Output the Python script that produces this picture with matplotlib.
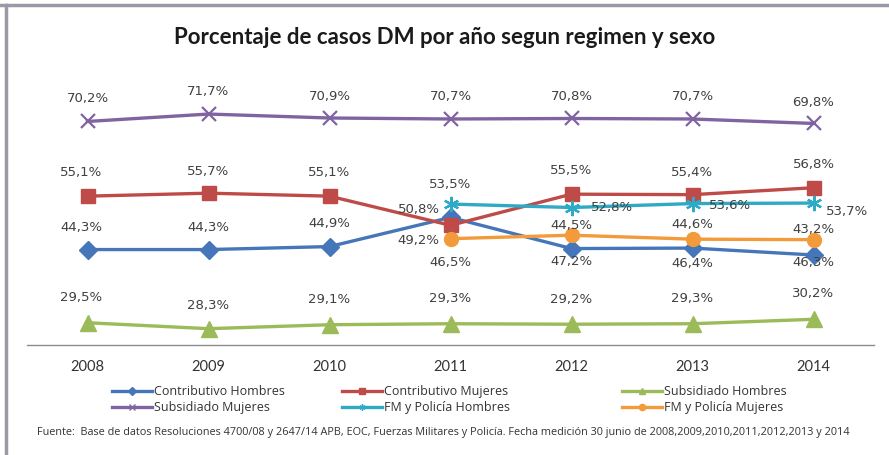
import numpy as np
import matplotlib
matplotlib.use("Agg")
import matplotlib.pyplot as plt
from matplotlib.lines import Line2D

years = ["2008", "2009", "2010", "2011", "2012", "2013", "2014"]
contrib_hombres = [44.3, 44.3, 44.9, 50.8, 44.5, 44.6, 43.2]
contrib_mujeres = [55.1, 55.7, 55.1, 49.2, 55.5, 55.4, 56.8]
subsid_hombres = [29.5, 28.3, 29.1, 29.3, 29.2, 29.3, 30.2]
subsid_mujeres = [70.2, 71.7, 70.9, 70.7, 70.8, 70.7, 69.8]
fm_hombres = [np.nan, np.nan, np.nan, 53.5, 52.8, 53.6, 53.7]
fm_mujeres = [np.nan, np.nan, np.nan, 46.5, 47.2, 46.4, 46.3]

title = "Porcentaje de casos DM por año segun regimen y sexo"
source = ("Fuente:  Base de datos Resoluciones 4700/08 y 2647/14 APB, EOC, Fuerzas Militares y Policía. "
          "Fecha medición 30 junio de 2008,2009,2010,2011,2012,2013 y 2014")

W, H = 889, 455
fig = plt.figure(figsize=(W / 100, H / 100), dpi=100)
fig.patch.set_facecolor("white")

ax = fig.add_axes([27 / W, 1 - 345 / H, (874 - 27) / W, (345 - 73) / H])
ax.set_xlim(-0.5, 6.5)
ax.set_ylim(25, 80)
for s in ["top", "left", "right"]:
    ax.spines[s].set_visible(False)
ax.spines["bottom"].set_color("#8c8c8c")
ax.spines["bottom"].set_linewidth(1.0)
ax.set_yticks([])
x = np.arange(len(years))
ax.set_xticks(x)
ax.set_xticklabels(years, fontsize=10.5, family="Lato", color="#333333")
ax.tick_params(axis="x", length=0, pad=11)

series = [
    ("Contributivo Hombres", contrib_hombres, "#4676BA", "D", 9, "#4676BA"),
    ("Contributivo Mujeres", contrib_mujeres, "#BE4B48", "s", 10, "#BE4B48"),
    ("Subsidiado Hombres", subsid_hombres, "#9BBB59", "^", 11, "#9BBB59"),
    ("Subsidiado Mujeres", subsid_mujeres, "#8064A2", "x", 10, "#8064A2"),
    ("FM y Policía Hombres", fm_hombres, "#2EA9C6", (6, 2, 0), 11, "#2EA9C6"),
    ("FM y Policía Mujeres", fm_mujeres, "#F39A3A", "o", 10, "#F39A3A"),
]

# label offsets in pixels (dx, dy)
offsets = {
    "Contributivo Hombres": [(-6, 22), (0, 22), (0, 23), (-32, 8), (0, 23), (0, 24), (0, 25)],
    "Contributivo Mujeres": [(-6, 24), (0, 22), (0, 24), (-32, -15), (0, 24), (0, 22), (0, 23)],
    "Subsidiado Hombres": [(-6, 25), (0, 23), (0, 25), (0, 25), (0, 25), (0, 25), (0, 26)],
    "Subsidiado Mujeres": [(0, 23), (0, 23), (0, 22), (0, 22), (0, 22), (0, 22), (0, 21)],
    "FM y Policía Hombres": [(0, 0), (0, 0), (0, 0), (0, 20), (40, 0), (38, -2), (34, -8)],
    "FM y Policía Mujeres": [(0, 0), (0, 0), (0, 0), (0, -24), (0, -26), (0, -24), (0, -23)],
}

handles = []
for name, vals, col, mk, ms, mfc in series:
    mew = 1.6 if mk in ("x", (6, 2, 0)) else 1
    ax.plot(x, vals, color=col, lw=2.4, marker=mk, ms=ms, mfc=mfc, mec=col,
            mew=mew, clip_on=False, zorder=3)
    for i, v in enumerate(vals):
        if np.isnan(v):
            continue
        dx, dy = offsets[name][i]
        ax.annotate(f"{v:.1f}%".replace(".", ","), (x[i], v), xytext=(dx, dy),
                    textcoords="offset pixels", ha="center", va="center",
                    fontsize=9.5, color="#404040", family="DejaVu Sans", zorder=5)
    handles.append(Line2D([0], [0], color=col, lw=2.4, marker=mk, ms=4.5, mfc=mfc,
                          mec=col, mew=1, label=name))

fig.text(0.5, 1 - 37 / H, title, ha="center", va="center", fontsize=16,
         family="Lato", fontweight="bold", color="#1a1a1a")

# legend as three columns
col_x = [106, 336, 616]
for c in range(3):
    hs = [handles[c], handles[c + 3]]
    fig.legend(handles=hs, loc="upper left", bbox_to_anchor=(col_x[c] / W, 1 - 379 / H),
               frameon=False, prop={"family": "Open Sans", "size": 9},
               handlelength=3.2, handletextpad=0.1, labelspacing=0.25,
               borderpad=0, labelcolor="#333333")

fig.text(37 / W, 1 - 433 / H, source, ha="left", va="center", fontsize=7.8,
         family="Open Sans", color="#333333")

# screenshot frame (top and left edges)
fig.add_artist(Line2D([0, 1], [1 - 5 / H, 1 - 5 / H], color="#9a9aa6", lw=2.5,
                      transform=fig.transFigure))
fig.add_artist(Line2D([6 / W, 6 / W], [0, 1 - 5 / H], color="#9a9aa6", lw=2.5,
                      transform=fig.transFigure))

fig.savefig("out.png", dpi=100, facecolor="white")
